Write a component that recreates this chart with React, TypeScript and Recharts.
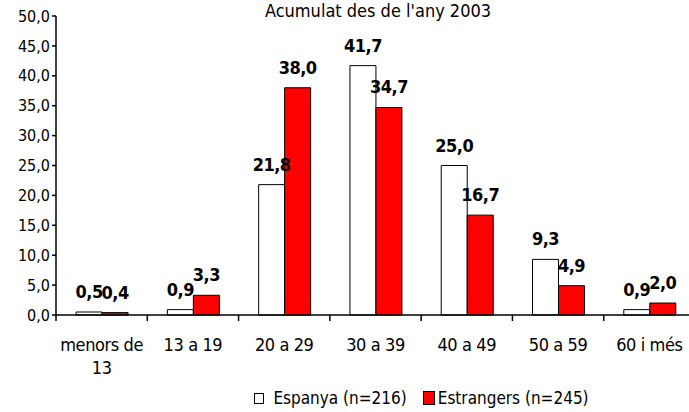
import { BarChart, Bar, XAxis, YAxis, Legend, LabelList, Text } from 'recharts'

const categories = ['menors de 13', '13 a 19', '20 a 29', '30 a 39', '40 a 49', '50 a 59', '60 i més']
const espanya = [0.5, 0.9, 21.8, 41.7, 25.0, 9.3, 0.9]
const estrangers = [0.4, 3.3, 38.0, 34.7, 16.7, 4.9, 2.0]
const yTicks = [0, 5, 10, 15, 20, 25, 30, 35, 40, 45, 50]

const seriesNames = ['Espanya (n=216)', 'Estrangers (n=245)']

const data = categories.map((c, i) => ({ cat: c, espanya: espanya[i], estrangers: estrangers[i] }))

const FONT = '"DejaVu Sans Condensed", "DejaVu Sans", sans-serif'
const fmt = (v: number) => v.toFixed(1).replace('.', ',')

const CatTick = (props: any) => {
  const { x, y, payload } = props
  const band = 639 / categories.length
  return (
    <g>
      <line x1={x - band / 2} x2={x - band / 2} y1={y - 8} y2={y - 2} stroke="#000" strokeWidth={1.5} />
      <Text
        x={x}
        y={y + 28}
        width={78}
        textAnchor="middle"
        verticalAnchor="start"
        lineHeight={23}
        fontSize={18}
        letterSpacing={-0.4}
        fontFamily={FONT}
        fill="#000"
        dy={-13}
      >
        {payload.value}
      </Text>
    </g>
  )
}

const LegendBox = () => (
  <div style={{ display: 'flex', justifyContent: 'center', gap: 16, fontFamily: FONT, fontSize: 17, color: '#000', paddingLeft: 148 }}>
    <span style={{ display: 'flex', alignItems: 'center' }}>
      <span style={{ width: 8, height: 9, border: '1px solid #000', background: '#fff', marginRight: 9 }} />
      {seriesNames[0]}
    </span>
    <span style={{ display: 'flex', alignItems: 'center' }}>
      <span style={{ width: 10, height: 12, border: '1px solid #000', background: '#ff0000', marginRight: 3 }} />
      {seriesNames[1]}
    </span>
  </div>
)

export default function App() {
  return (
    <div style={{ position: 'absolute', left: 0, top: 0, width: 689, height: 412, overflow: 'hidden', background: '#fff' }}>
      <div style={{ position: 'absolute', left: 240, top: 2, width: 276, lineHeight: '18px', textAlign: 'center', fontFamily: FONT, fontSize: 18, color: '#000', zIndex: 2 }}>
        Acumulat des de l'any 2003
      </div>
      <BarChart
        width={695}
        height={412}
        data={data}
        margin={{ top: 16, right: 0, left: 0, bottom: 0 }}
        barCategoryGap="22%"
        barGap={0}
      >
        <YAxis
          width={56}
          domain={[0, 50]}
          ticks={yTicks}
          interval={0}
          tickFormatter={fmt}
          tick={{ fontSize: 16, fontFamily: FONT, fill: '#000' }}
          tickSize={4}
          stroke="#000"
          strokeWidth={1.5}
        />
        <XAxis
          dataKey="cat"
          height={73}
          interval={0}
          tick={<CatTick />}
          tickLine={false}
          stroke="#000"
          strokeWidth={1.5}
        />
        <Legend verticalAlign="bottom" height={24} content={<LegendBox />} />
        <Bar dataKey="espanya" fill="#fff" stroke="#000" strokeWidth={1} isAnimationActive={false}>
          <LabelList dataKey="espanya" position="top" offset={14} formatter={(v: any) => fmt(Number(v))} style={{ fontSize: 18, fontWeight: 'bold', fontFamily: FONT, fill: '#000', letterSpacing: -0.5 }} />
        </Bar>
        <Bar dataKey="estrangers" fill="#ff0000" stroke="#000" strokeWidth={1} isAnimationActive={false}>
          <LabelList dataKey="estrangers" position="top" offset={14} formatter={(v: any) => fmt(Number(v))} style={{ fontSize: 18, fontWeight: 'bold', fontFamily: FONT, fill: '#000', letterSpacing: -0.5 }} />
        </Bar>
      </BarChart>
    </div>
  )
}
